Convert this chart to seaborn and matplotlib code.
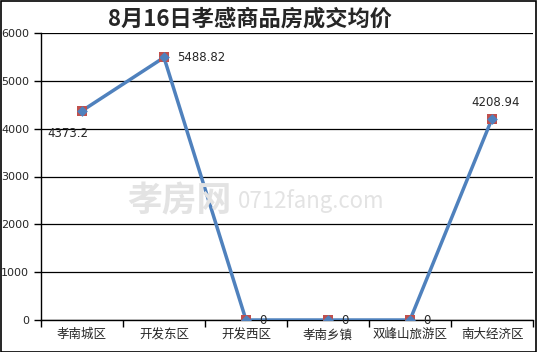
import matplotlib
matplotlib.use("Agg")
import matplotlib.pyplot as plt
import seaborn as sns
import pandas as pd
import numpy as np

categories = ["孝南城区", "开发东区", "开发西区", "孝南乡镇", "双峰山旅游区", "南大经济区"]
values = [4373.2, 5488.82, 0, 0, 0, 4208.94]
value_labels = ["4373.2", "5488.82", "0", "0", "0", "4208.94"]
title = "8月16日孝感商品房成交均价"
yticks = [0, 1000, 2000, 3000, 4000, 5000, 6000]

sns.set_style("white")
plt.rcParams['font.family'] = ['Noto Sans CJK SC', 'DejaVu Sans']

df = pd.DataFrame({"x": np.arange(len(categories)), "y": values})

fig = plt.figure(figsize=(5.37, 3.52), dpi=100)
ax = fig.add_axes([41/537, 1-320/352, 492/537, (320-33)/352])

# watermark
fig.text(127/537, 0.43, "孝房网", fontsize=25, color="#e3e3e3", fontweight="bold", ha="left", va="center", zorder=0)
fig.text(238/537, 0.43, "0712fang.com", fontsize=16, color="#e3e3e3", ha="left", va="center", zorder=0)

sns.lineplot(data=df, x="x", y="y", ax=ax, color="#4f81bd", linewidth=2.5, zorder=3)
sns.scatterplot(data=df, x="x", y="y", ax=ax, marker="s", s=60, color="#c0504d", edgecolor="#c0504d", linewidth=0, zorder=4)
sns.scatterplot(data=df, x="x", y="y", ax=ax, marker="D", s=30, color="#4f81bd", edgecolor="#4f81bd", linewidth=0, zorder=5)

ax.set_xlim(-0.5, 5.5)
ax.set_ylim(0, 6000)
ax.set_yticks(yticks)
ax.set_yticklabels([str(t) for t in yticks], fontsize=8, family=['DejaVu Sans'])
ax.yaxis.grid(True, color="black", linewidth=0.9)
ax.set_axisbelow(True)
ax.set_xticks(np.arange(len(categories)))
ax.set_xticklabels(categories, fontsize=9)
ax.tick_params(axis="x", length=0, pad=6)
ax.set_xticks(np.arange(-0.5, len(categories)), minor=True)
ax.tick_params(axis="x", which="minor", length=5, width=1, direction="out", color="black", bottom=True)
ax.tick_params(axis="y", length=5, width=1, direction="out", color="black", left=True, labelsize=8)
ax.set_xlabel("")
ax.set_ylabel("")
for s in ["top", "right"]:
    ax.spines[s].set_visible(False)
for s in ["left", "bottom"]:
    ax.spines[s].set_color("black")
    ax.spines[s].set_linewidth(1)

offsets = [(-0.42, -480, "left", "center"), (0.16, 0, "left", "center"),
           (0.16, 0, "left", "center"), (0.16, 0, "left", "center"),
           (0.16, 0, "left", "center"), (-0.25, 330, "left", "center")]
for i, (lab, v) in enumerate(zip(value_labels, values)):
    dx, dy, ha, va = offsets[i]
    ax.text(i + dx, v + dy, lab, fontsize=8.5, ha=ha, va=va, family=['DejaVu Sans'], zorder=6)

fig.text(0.465, 0.945, title, fontsize=16, fontweight="bold", ha="center", va="center")

border = plt.Rectangle((0.001, 0.001), 0.997, 0.997, transform=fig.transFigure, fill=False, edgecolor="black", linewidth=1.2)
fig.patches.append(border)

fig.savefig("out.png", dpi=100)
